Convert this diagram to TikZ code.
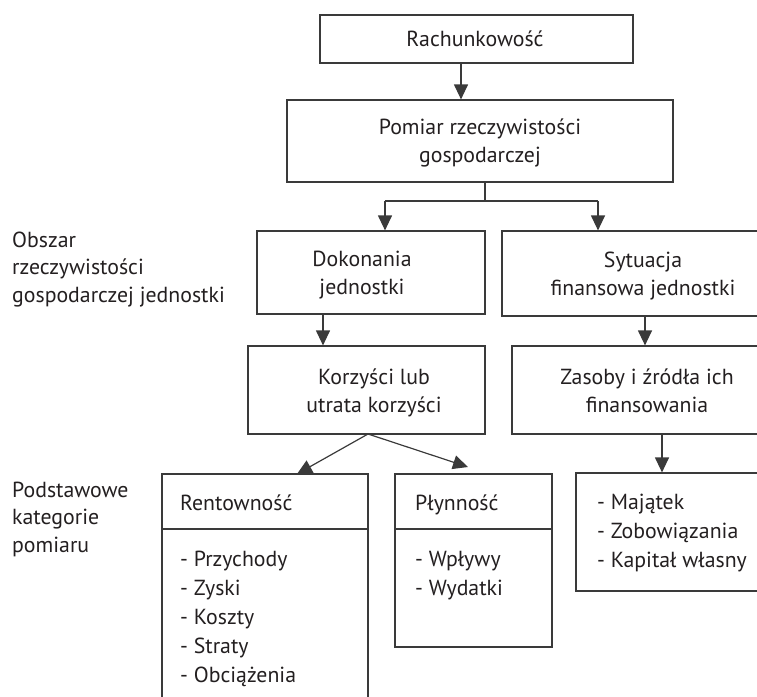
\documentclass[tikz,border=0pt]{standalone}
\usepackage{fontspec}
\setmainfont{PT Sans}
\usetikzlibrary{arrows.meta}
\definecolor{ink}{HTML}{231F20}
\definecolor{edge}{HTML}{3A3A3A}
\tikzset{
  txt/.style={font=\fontsize{21.8}{27.5}\selectfont, text=ink, inner sep=0pt},
  lst/.style={font=\fontsize{21.8}{29}\selectfont, text=ink, inner sep=0pt, align=left},
  boxr/.style={draw=edge, line width=1.2pt, rectangle, inner sep=0pt},
  arr/.style={draw=edge, line width=1.2pt, -{Triangle[width=14pt,length=15pt]}},
  ln/.style={draw=edge, line width=1.2pt}
}
\begin{document}
\begin{tikzpicture}[x=1pt,y=-1pt]
\useasboundingbox (0,0) rectangle (757,696);
\clip (0,0) rectangle (757,696);
% boxes
\node[boxr, minimum width=313pt, minimum height=48pt] (rach) at (476.5,39) {};
\node[boxr, minimum width=386pt, minimum height=82pt] (pom) at (480,141) {};
\node[boxr, minimum width=228pt, minimum height=83pt] (dok) at (371,272.5) {};
\node[boxr, minimum width=298pt, minimum height=85pt] (syt) at (651,273.5) {};
\node[boxr, minimum width=237pt, minimum height=88pt] (kor) at (366.5,390) {};
\node[boxr, minimum width=288pt, minimum height=88pt] (zas) at (656,390) {};
\node[boxr, minimum width=206pt, minimum height=246pt] (ren) at (265,597) {};
\node[boxr, minimum width=157pt, minimum height=173pt] (ply) at (473.5,560.5) {};
\node[boxr, minimum width=224pt, minimum height=118pt] (maj) at (688,532) {};
% dividers
\coordinate (rdiv) at (0,529);
\draw[ln] (ren.west |- rdiv) -- (ren.east |- rdiv);
\draw[ln] (ply.west |- rdiv) -- (ply.east |- rdiv);
% texts (base anchor = last line baseline)
\node[txt, anchor=base] (t1) at (475,46) {Rachunkowość};
\node[txt, anchor=base, align=center] (t2) at (480,162) {Pomiar rzeczywistości\\gospodarczej};
\node[txt, anchor=base, align=center] (t3) at (362,294) {Dokonania\\jednostki};
\node[txt, anchor=base, align=center] (t4) at (643,295) {Sytuacja\\finansowa jednostki};
\node[txt, anchor=base, align=center] (t5) at (374,412) {Korzyści lub\\utrata korzyści};
\node[txt, anchor=base, align=center] (t6) at (647,412) {Zasoby i źródła ich\\finansowania};
\node[txt, anchor=base west, align=left] (l1) at (12,302) {Obszar\\rzeczywistości\\gospodarczej jednostki};
\node[txt, anchor=base west, align=left] (l2) at (12,552) {Podstawowe\\kategorie\\pomiaru};
\node[txt, anchor=base west] (h1) at (180,510) {Rentowność};
\node[txt, anchor=base west] (h2) at (415,510) {Płynność};
\node[lst, anchor=base west] (i1) at (180,682) {- Przychody\\- Zyski\\- Koszty\\- Straty\\- Obciążenia};
\node[lst, anchor=base west] (i2) at (415,595) {- Wpływy\\- Wydatki};
\node[lst, anchor=base west] (i3) at (597,567) {- Majątek\\- Zobowiązania\\- Kapitał własny};
% connectors
\coordinate (cA) at (461,0);
\draw[arr] (rach.south -| cA) -- (pom.north -| cA);
\coordinate (cB) at (485,201);
\coordinate (cL) at (385,201);
\coordinate (cR) at (598,201);
\draw[ln] (pom.south -| cB) -- (cB);
\draw[ln] (cL) -- (cR);
\draw[arr] (cL) -- (dok.north -| cL);
\draw[arr] (cR) -- (syt.north -| cR);
\coordinate (cD) at (323,0);
\draw[arr] (dok.south -| cD) -- (kor.north -| cD);
\coordinate (cS) at (645,0);
\draw[arr] (syt.south -| cS) -- (zas.north -| cS);
\coordinate (cK) at (368,434);
\coordinate (cRt) at (297,474);
\coordinate (cPt) at (468,467);
\draw[arr] (cK) -- (cRt);
\draw[arr] (cK) -- (cPt);
\coordinate (cZ) at (662,0);
\draw[arr] (zas.south -| cZ) -- (maj.north -| cZ);
\end{tikzpicture}
\end{document}
